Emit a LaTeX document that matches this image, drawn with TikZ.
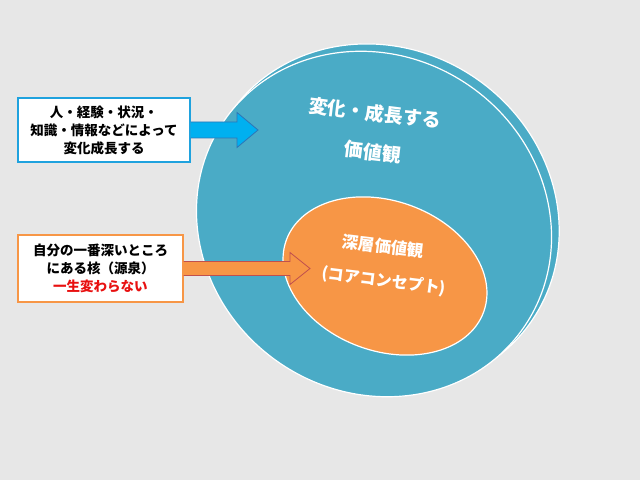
\documentclass[tikz,border=0pt]{standalone}
\usepackage{fontspec}
\usepackage{xcolor}
\usetikzlibrary{calc}
\newfontfamily\jpfont{Noto Sans CJK JP}
\definecolor{paper}{HTML}{E7E7E7}
\definecolor{aquablue}{HTML}{4AABC6}
\definecolor{coreorange}{HTML}{F79646}
\definecolor{boxblue}{HTML}{1FA2DE}
\definecolor{arrowblue}{HTML}{00B0F0}
\definecolor{arrowedge}{HTML}{2E75B6}
\definecolor{arrowbrown}{HTML}{C0504D}
\definecolor{alertred}{HTML}{E81010}

\begin{document}
\begin{tikzpicture}[x=1pt, y=1pt,
    every node/.style={font=\jpfont\bfseries},
    notebox/.style={draw, fill=white, line width=1.3pt, align=center,
      font=\jpfont\bfseries\fontsize{13.5}{18}\selectfont, inner sep=0pt},
    disctext/.style={white, rotate=-7, inner sep=0pt},
    bluearrow/.style={fill=arrowblue, draw=arrowedge, line width=0.8pt},
    orangearrow/.style={fill=coreorange, draw=arrowbrown, line width=0.8pt}]
        % paper background
        \fill[paper] (0,0) rectangle (640,480);
        \useasboundingbox (0,0) rectangle (640,480);

        % outer value sphere: two stacked discs
        \draw[fill=aquablue, draw=white, line width=1.2pt, rotate around={-35:(381,263)}]
          (381,263) ellipse (183 and 168);
        \draw[fill=aquablue, draw=white, line width=1.2pt, rotate around={-35:(374,256)}]
          (374,256) ellipse (182 and 168);
        \node[disctext, font=\jpfont\bfseries\fontsize{19}{19}\selectfont]
          (outer1) at (375,367) {変化・成長する};
        \node[disctext, font=\jpfont\bfseries\fontsize{19}{19}\selectfont]
          (outer2) at (373,328) {価値観};

        % inner core
        \draw[fill=coreorange, draw=white, line width=1.2pt, rotate around={-20:(385,204)}]
          (385,204) ellipse (105 and 75);
        \node[disctext, font=\jpfont\bfseries\fontsize{16.5}{16.5}\selectfont]
          (core1) at (383,234) {深層価値観};
        \node[disctext, font=\jpfont\bfseries\fontsize{16}{16}\selectfont]
          (core2) at (384,199) {(コアコンセプト)};

        % left notes
        \node[notebox, draw=boxblue, minimum width=172, minimum height=64]
          (change) at (104,350) {人・経験・状況・\\知識・情報などによって\\変化成長する};
        \node[notebox, draw=coreorange, minimum width=165, minimum height=67]
          (deep) at (100.5,211.5) {自分の一番深いところ\\にある核（源泉）\\\textcolor{alertred}{一生変わらない}};

        % block arrows
        \coordinate (tipA) at (258,350);
        \coordinate (tipB) at (310,211.5);
        \draw[bluearrow]
          ($(change.east)+(0,8)$) -- ($(tipA)+(-21,8)$) -- ($(tipA)+(-21,17.5)$) -- (tipA)
          -- ($(tipA)+(-21,-17.5)$) -- ($(tipA)+(-21,-8)$) -- ($(change.east)+(0,-8)$);
        \draw[orangearrow]
          ($(deep.east)+(0,7)$) -- ($(tipB)+(-20,7)$) -- ($(tipB)+(-20,16)$) -- (tipB)
          -- ($(tipB)+(-20,-16)$) -- ($(tipB)+(-20,-7)$) -- ($(deep.east)+(0,-7)$);
      \end{tikzpicture}
\end{document}
